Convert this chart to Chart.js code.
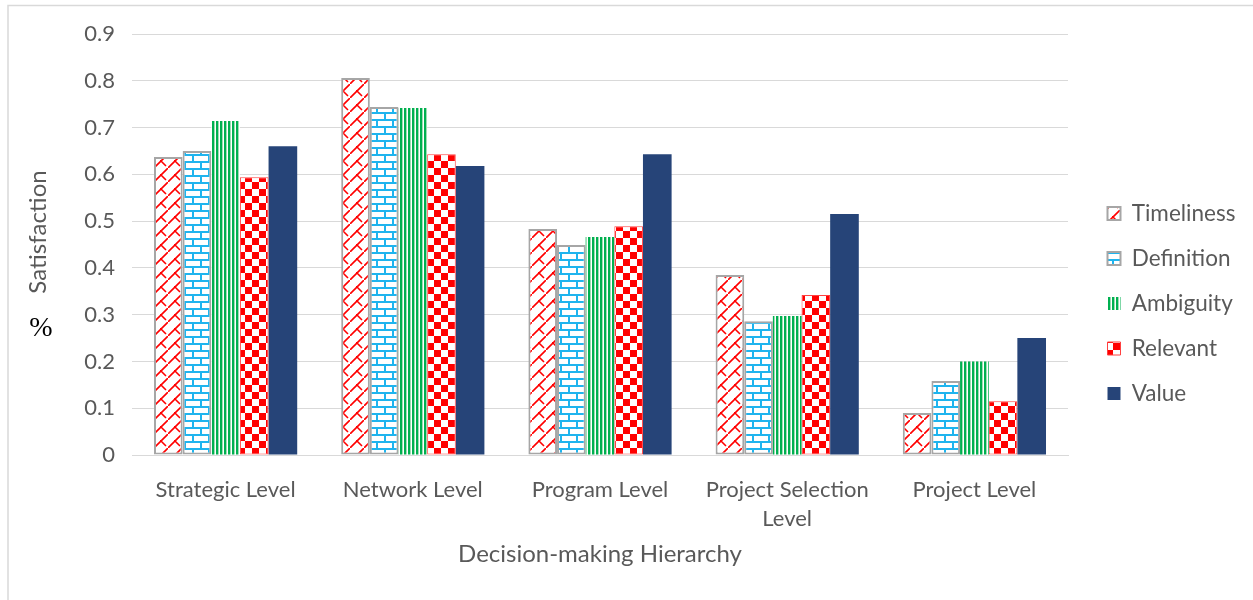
<!DOCTYPE html>
<html lang="en">
<head>
<meta charset="UTF-8">
<title>Decision-making Hierarchy</title>
<script src="https://cdn.jsdelivr.net/npm/chart.js@4.4.0/dist/chart.umd.min.js"></script>
<style>
    html, body { margin: 0; background: #fff; }
</style>
</head>
<body>
<canvas id="myChart" width="1253" height="600"></canvas>
<script>
    // data
    const levels = ['Strategic Level', 'Network Level', 'Program Level', ['Project Selection', 'Level'], 'Project Level'];
    const timeliness = [0.637, 0.806, 0.483, 0.385, 0.090];
    const definition = [0.650, 0.744, 0.449, 0.286, 0.158];
    const ambiguity  = [0.714, 0.742, 0.466, 0.297, 0.200];
    const relevant   = [0.594, 0.643, 0.489, 0.342, 0.115];
    const value      = [0.660, 0.618, 0.643, 0.515, 0.250];
    const yTicks = ['0', '0.1', '0.2', '0.3', '0.4', '0.5', '0.6', '0.7', '0.8', '0.9'];

    const ctx = document.getElementById('myChart');
    const c2d = ctx.getContext('2d');

    // small helper to build a repeating fill pattern
    function makePattern(w, h, draw) {
        const tile = document.createElement('canvas');
        tile.width = w;
        tile.height = h;
        const t = tile.getContext('2d');
        t.fillStyle = '#ffffff';
        t.fillRect(0, 0, w, h);
        draw(t);
        return c2d.createPattern(tile, 'repeat');
    }

    // diagonal brick, red
    const patTimeliness = makePattern(14, 14, t => {
        t.strokeStyle = '#ff0000';
        t.lineWidth = 1.6;
        t.beginPath();
        t.moveTo(0, 14); t.lineTo(14, 0);
        t.moveTo(7, 7); t.lineTo(12, 12);
        t.stroke();
        t.fillStyle = '#ff0000';
        t.fillRect(6, 6, 2, 2);
    });
    // horizontal brick, light blue
    const patDefinition = makePattern(16, 14, t => {
        t.fillStyle = '#1fb4ee';
        t.fillRect(0, 0, 16, 2);
        t.fillRect(0, 7, 16, 2);
        t.fillRect(0, 0, 2, 7);
        t.fillRect(8, 7, 2, 7);
    });
    // vertical stripes, green
    const patAmbiguity = makePattern(4, 4, t => {
        t.fillStyle = '#00b050';
        t.fillRect(0, 0, 2, 4);
        t.fillStyle = '#9fdcb4';
        t.fillRect(2, 0, 1, 4);
    });
    // large checkerboard, red
    const patRelevant = makePattern(14, 14, t => {
        t.fillStyle = '#ff0000';
        t.fillRect(0, 0, 7, 7);
        t.fillRect(7, 7, 7, 7);
    });

    const frame = {
        id: 'frame',
        afterInit(chart) {
            // fixed legend width so the plot ends where the original does
            const fit = chart.legend.fit;
            chart.legend.fit = function () {
                fit.call(this);
                this.width = 185;
            };
        },
        beforeDraw(chart) {
            const g = chart.ctx;
            g.save();
            g.fillStyle = '#ffffff';
            g.fillRect(0, 0, chart.width, chart.height);
            g.strokeStyle = '#d9d9d9';
            g.lineWidth = 1.5;
            g.beginPath();
            g.moveTo(8, 600); g.lineTo(8, 5.5); g.lineTo(1253, 5.5);
            g.stroke();
            g.restore();
        },
        afterLayout(chart) {
            chart.legend.left += 17;
            chart.legend.right += 17;
        },
        afterDraw(chart) {
            const g = chart.ctx;
            g.save();
            // y axis title, placed a little above the plot middle like the original
            g.translate(38, 232);
            g.rotate(-Math.PI / 2);
            g.fillStyle = '#595959';
            g.font = '24px Lato';
            g.textAlign = 'center';
            g.textBaseline = 'middle';
            g.fillText('Satisfaction', 0, 0);
            g.restore();

            g.save();
            g.fillStyle = '#000000';
            g.font = '28px "Liberation Serif"';
            g.textAlign = 'center';
            g.textBaseline = 'middle';
            g.fillText('%', 41, 329);
            g.restore();
        }
    };

    const myChart = new Chart(ctx, {
        type: 'bar',
        data: {
            labels: levels,
            datasets: [
                { label: 'Timeliness', data: timeliness, backgroundColor: patTimeliness, borderColor: '#a6a6a6', borderWidth: 2, borderSkipped: false },
                { label: 'Definition', data: definition, backgroundColor: patDefinition, borderColor: '#a6a6a6', borderWidth: 2, borderSkipped: false },
                { label: 'Ambiguity', data: ambiguity, backgroundColor: patAmbiguity, borderWidth: 0 },
                { label: 'Relevant', data: relevant, backgroundColor: patRelevant, borderColor: '#ff4040', borderWidth: 1, borderSkipped: false },
                { label: 'Value', data: value, backgroundColor: '#264478', borderWidth: 0 }
            ]
        },
        options: {
            responsive: false,
            animation: false,
            devicePixelRatio: 1,
            categoryPercentage: 0.765,
            barPercentage: 1.0,
            layout: {
                padding: { left: 20, top: 34, right: 0, bottom: 27 }
            },
            scales: {
                x: {
                    grid: { display: false },
                    border: { color: '#d9d9d9', width: 1 },
                    ticks: {
                        color: '#595959',
                        padding: 12,
                        maxRotation: 0,
                        autoSkip: false,
                        font: { family: 'Lato', size: 22, lineHeight: 1.32 }
                    },
                    title: {
                        display: true,
                        text: 'Decision-making Hierarchy',
                        color: '#595959',
                        padding: { top: 4, bottom: 4 },
                        font: { family: 'Lato', size: 24 }
                    },
                    afterFit(scale) { scale.height = 118; }
                },
                y: {
                    min: 0,
                    max: 0.9,
                    grid: { color: '#d9d9d9', lineWidth: 1, drawTicks: false },
                    border: { display: false },
                    ticks: {
                        stepSize: 0.1,
                        color: '#595959',
                        padding: 17,
                        font: { family: 'Lato', size: 22 },
                        callback: (v, i) => yTicks[i]
                    },
                    title: { display: false },
                    afterFit(scale) { scale.width = 112; }
                }
            },
            plugins: {
                title: { display: false },
                tooltip: { enabled: false },
                legend: {
                    display: true,
                    position: 'right',
                    align: 'center',
                    labels: {
                        boxWidth: 13,
                        boxHeight: 13,
                        padding: 22.5,
                        color: '#595959',
                        font: { family: 'Lato', size: 22.5 }
                    }
                }
            }
        },
        plugins: [frame]
    });
</script>
</body>
</html>
